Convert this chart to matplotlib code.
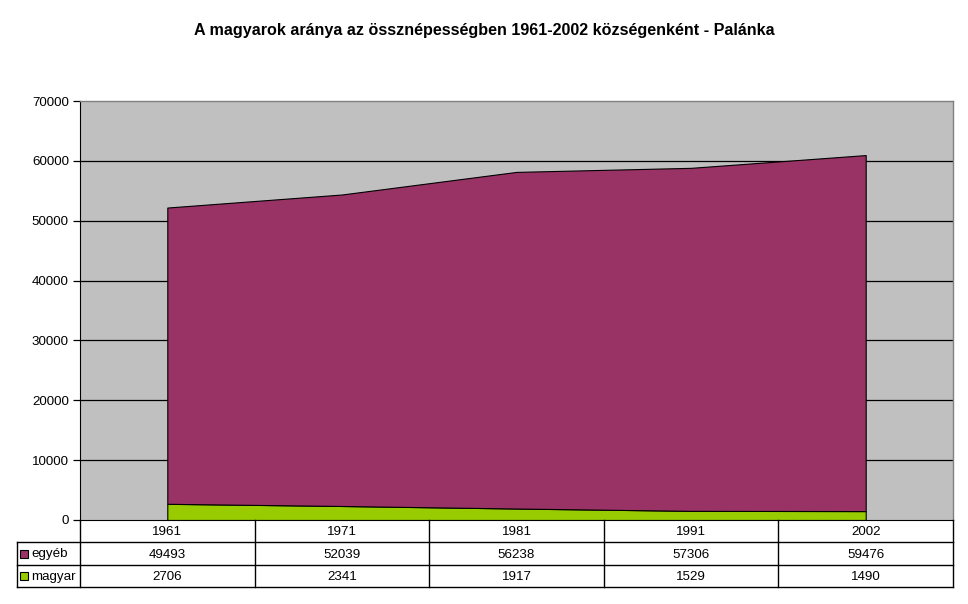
import matplotlib
matplotlib.use("Agg")
import matplotlib.pyplot as plt
from matplotlib.patches import Rectangle
from matplotlib.lines import Line2D

years = ["1961", "1971", "1981", "1991", "2002"]
egyeb = [49493, 52039, 56238, 57306, 59476]
magyar = [2706, 2341, 1917, 1529, 1490]
series_names = ["egyéb", "magyar"]
yticks = [0, 10000, 20000, 30000, 40000, 50000, 60000, 70000]

plt.rcParams['font.family'] = ['Liberation Sans', 'DejaVu Sans']
FS = 9.6

W, H = 968, 604
fig = plt.figure(figsize=(W / 100, H / 100), dpi=100)
fig.patch.set_facecolor("white")

# plot area in pixels
left, right, top, bottom = 80, 953, 101, 520
ax = fig.add_axes([left / W, 1 - bottom / H, (right - left) / W, (bottom - top) / H])
ax.set_facecolor("#C0C0C0")

x = list(range(len(years)))
ax.stackplot(x, magyar, egyeb, colors=["#99CC00", "#993366"],
             edgecolor="black", linewidth=0.8)
ax.set_xlim(-0.5, len(years) - 0.5)
ax.set_ylim(0, 70000)
ax.set_yticks(yticks)
ax.set_yticklabels([str(v) for v in yticks], fontsize=FS)
ax.set_xticks([])
for v in yticks[1:-1]:
    ax.axhline(v, color="black", linewidth=0.9, zorder=0.5)
ax.tick_params(axis="y", direction="out", length=5, width=0.9, pad=3)
for s in ["top", "right"]:
    ax.spines[s].set_color("#808080")
    ax.spines[s].set_linewidth(1.0)
ax.spines["left"].set_color("black")
ax.spines["bottom"].set_color("black")

fig.text(0.5, 1 - 31 / H, "A magyarok aránya az össznépességben 1961-2002 községenként - Palánka",
         ha="center", va="center", fontsize=11.6, fontweight="bold")

# data table
def px(xp, yp):
    return xp / W, 1 - yp / H

rows_y = [520, 542, 565, 587]
leg_left = 17
col_w = (right - left) / len(years)


def hline(y, x0, x1):
    fig.add_artist(Line2D([x0 / W, x1 / W], [1 - y / H, 1 - y / H], color="black", lw=1.0))


def vline(xp, y0, y1):
    fig.add_artist(Line2D([xp / W, xp / W], [1 - y0 / H, 1 - y1 / H], color="black", lw=1.0))


hline(rows_y[1], leg_left, right)
hline(rows_y[2], leg_left, right)
hline(rows_y[3], leg_left, right)
vline(leg_left, rows_y[1], rows_y[3])
for i in range(len(years) + 1):
    vline(left + i * col_w, rows_y[0], rows_y[3])

for i, yr in enumerate(years):
    cx = left + (i + 0.5) * col_w
    fig.text(*px(cx, (rows_y[0] + rows_y[1]) / 2 + 1), yr, ha="center", va="center", fontsize=FS)
    fig.text(*px(cx, (rows_y[1] + rows_y[2]) / 2 + 1), str(egyeb[i]), ha="center", va="center", fontsize=FS)
    fig.text(*px(cx, (rows_y[2] + rows_y[3]) / 2 + 1), str(magyar[i]), ha="center", va="center", fontsize=FS)

for name, color, r in [(series_names[0], "#993366", 1), (series_names[1], "#99CC00", 2)]:
    cy = (rows_y[r] + rows_y[r + 1]) / 2
    fig.add_artist(Rectangle(((leg_left + 3) / W, 1 - (cy + 4) / H), 8 / W, 8 / H,
                             facecolor=color, edgecolor="black", lw=0.8))
    fig.text(*px(leg_left + 14, cy + 1), name, ha="left", va="center", fontsize=FS)

fig.savefig("out.png", dpi=100)
